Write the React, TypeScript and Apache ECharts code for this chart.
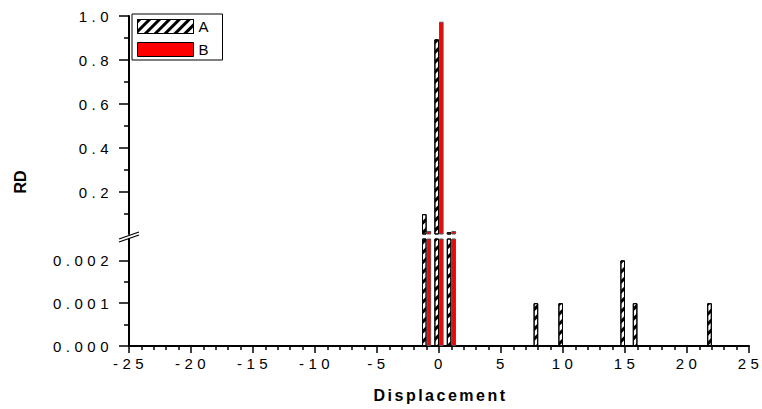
import React, { useEffect, useRef } from 'react';
import * as echarts from 'echarts';

// Displacement positions and RD values
const seriesA: [number, number][] = [
  [-1, 0.1], [0, 0.894], [1, 0.018], [8, 0.001], [10, 0.001], [15, 0.002], [16, 0.001], [22, 0.001],
];
const seriesB: [number, number][] = [[-1, 0.024], [0, 0.974], [1, 0.024]];
const upperTicks = [0.2, 0.4, 0.6, 0.8, 1.0];
const upperMinorTicks = [0.1, 0.3, 0.5, 0.7, 0.9];
const lowerTicks = [0, 0.001, 0.002];
const lowerMinorTicks = [0.0005, 0.0015];

const LABEL_FONT = 'Arial';
const hatch = {
  symbol: 'rect',
  symbolSize: 1,
  dashArrayX: [1, 0],
  dashArrayY: [3, 3.5],
  rotation: -Math.PI / 4,
  color: '#000',
};

export default function App() {
  const ref = useRef<HTMLDivElement>(null);
  useEffect(() => {
    const chart = echarts.init(ref.current!, undefined, { renderer: 'svg' });
    const axisLine = { show: true, onZero: false, lineStyle: { color: '#000', width: 2 } };
    const labelStyle = { fontSize: 15, fontFamily: LABEL_FONT, color: '#000' };
    const styleA = { color: '#fff', borderColor: '#000', borderWidth: 1, decal: hatch };
    const styleB = { color: '#ff0000', borderColor: '#555', borderWidth: 1 };
    const common = { type: 'bar', barWidth: 4.6, barGap: '0%', clip: true };
    chart.setOption({
      animation: false,
      backgroundColor: '#fff',
      grid: [
        { left: 129, top: 16, width: 620, height: 218 },
        { left: 129, top: 239, width: 620, height: 107 },
      ],
      xAxis: [
        { gridIndex: 0, type: 'value', min: -25, max: 25, show: false },
        {
          gridIndex: 1, type: 'value', min: -25, max: 25, interval: 5,
          axisLine,
          axisTick: { show: true, length: 7, lineStyle: { color: '#000', width: 1.5 } },
          minorTick: { show: true, splitNumber: 5, length: 4, lineStyle: { color: '#000', width: 1.5 } },
          splitLine: { show: false },
          axisLabel: { ...labelStyle, margin: 10, padding: [0, 0, 0, 3] },
          name: 'Displacement', nameLocation: 'middle', nameGap: 41,
          nameTextStyle: { fontSize: 16, fontWeight: 'bold', fontFamily: 'Helvetica', color: '#000', padding: [0, 0, 0, 3] },
        },
      ],
      yAxis: [
        {
          gridIndex: 0, type: 'value', min: 0.01, max: 1, position: 'left',
          axisLine,
          axisTick: { show: true, length: 10, customValues: upperTicks, lineStyle: { color: '#000', width: 1.5 } },
          axisLabel: { ...labelStyle, margin: 16, customValues: upperTicks, formatter: (v: number) => v.toFixed(1) },
          splitLine: { show: false },
        },
        {
          gridIndex: 0, type: 'value', min: 0.01, max: 1, position: 'left',
          axisLine: { show: false, onZero: false },
          axisTick: { show: true, length: 5, customValues: upperMinorTicks, lineStyle: { color: '#000', width: 1.5 } },
          axisLabel: { show: false },
          splitLine: { show: false },
        },
        {
          gridIndex: 1, type: 'value', min: 0, max: 0.0025, position: 'left',
          axisLine,
          axisTick: { show: true, length: 10, customValues: lowerTicks, lineStyle: { color: '#000', width: 1.5 } },
          axisLabel: { ...labelStyle, margin: 16, customValues: lowerTicks, formatter: (v: number) => v.toFixed(3) },
          splitLine: { show: false },
        },
        {
          gridIndex: 1, type: 'value', min: 0, max: 0.0025, position: 'left',
          axisLine: { show: false, onZero: false },
          axisTick: { show: true, length: 5, customValues: lowerMinorTicks, lineStyle: { color: '#000', width: 1.5 } },
          axisLabel: { show: false },
          splitLine: { show: false },
        },
      ],
      legend: {
        data: ['A', 'B'],
        orient: 'vertical', left: 132, top: 14,
        itemWidth: 56, itemHeight: 14, itemGap: 8,
        padding: [5, 14, 3, 5],
        borderColor: '#000', borderWidth: 1, backgroundColor: '#fff',
        icon: 'rect',
        itemStyle: { borderColor: '#000', borderWidth: 1 },
        textStyle: { fontSize: 15, fontFamily: 'Liberation Sans', color: '#000' },
      },
      series: [
        { ...common, name: 'A', xAxisIndex: 0, yAxisIndex: 0, data: seriesA, itemStyle: styleA },
        { ...common, name: 'B', xAxisIndex: 0, yAxisIndex: 0, data: seriesB, itemStyle: styleB },
        { ...common, name: 'A', xAxisIndex: 1, yAxisIndex: 2, data: seriesA, itemStyle: styleA },
        { ...common, name: 'B', xAxisIndex: 1, yAxisIndex: 2, data: seriesB, itemStyle: styleB },
      ],
      graphic: [
        {
          type: 'text', x: 20, y: 182, rotation: Math.PI / 2,
          style: { text: 'RD', fontSize: 16, fontWeight: 'bold', fontFamily: 'Liberation Sans', fill: '#000', align: 'center', verticalAlign: 'middle' },
        },
        { type: 'line', shape: { x1: 119, y1: 239, x2: 139, y2: 232 }, style: { stroke: '#000', lineWidth: 1.3 } },
        { type: 'line', shape: { x1: 119, y1: 242, x2: 139, y2: 235 }, style: { stroke: '#000', lineWidth: 1.3 } },
      ],
    });
    return () => chart.dispose();
  }, []);
  return (
    <>
      <style>{`
        #chart-root text[style*="Arial"] { letter-spacing: 4.5px; }
        #chart-root text[style*="Helvetica"] { letter-spacing: 2.5px; }
      `}</style>
      <div id="chart-root" ref={ref} style={{ position: 'fixed', left: 0, top: 0, width: 762, height: 409 }} />
    </>
  );
}
